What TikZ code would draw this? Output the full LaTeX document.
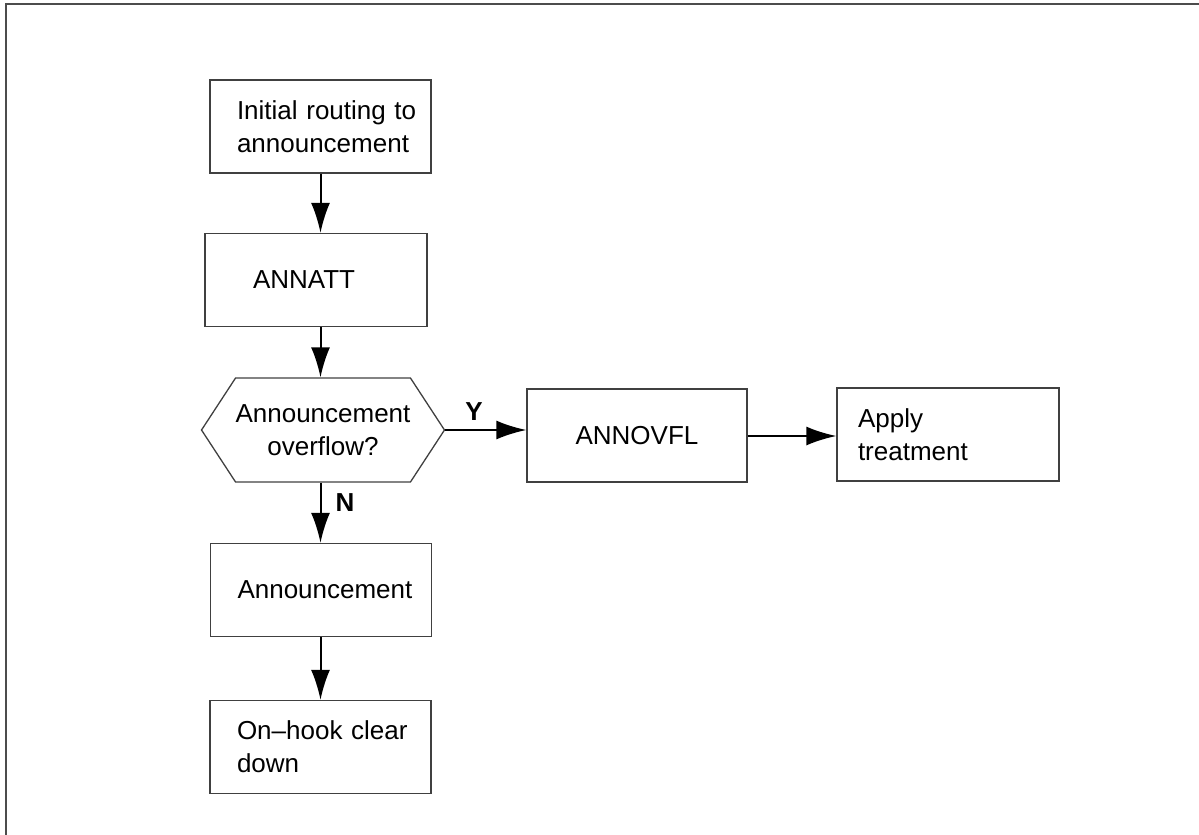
\documentclass[tikz,border=0pt]{standalone}
\usepackage{fontspec}
\setmainfont{Liberation Sans}
\usetikzlibrary{arrows.meta,shapes.symbols}

\begin{document}
\begin{tikzpicture}[x=0.5pt,y=-0.5pt,
  proc/.style={draw=black!75, line width=0.65pt, inner ysep=0pt, inner xsep=13.5pt,
    text width=83.5pt, minimum height=46.5pt, align=left,
    font=\fontsize{13}{16.5}\selectfont},
  decide/.style={draw=black!75, line width=0.65pt, shape=signal, signal to=east and west,
    signal pointer angle=113.6, minimum width=112pt, minimum height=52pt,
    inner sep=0pt, align=center, font=\fontsize{13}{16.5}\selectfont},
  flow/.style={-{Latex[length=15pt,width=9.5pt]}, line width=1pt},
  yn/.style={font=\fontsize{13}{16.5}\selectfont\bfseries}]

\useasboundingbox (0,0) rectangle (1199,835);

% Frame
\draw[black!70, line width=1pt] (6,835) -- (6,4) -- (1199,4);

% Main column
\node[proc] (init) at (320.5,126.5) {\mbox{Initial routing to}\\\mbox{announcement}};
\node[proc, inner xsep=24pt, text width=63pt] (annatt) at (316,280) {ANNATT};
\node[decide] (ovfl) at (323,430) {Announcement\\overflow?};
\node[proc] (annc) at (321,590) {\mbox{Announcement}};
\node[proc] (onhook) at (320.5,747) {\mbox{On--hook clear}\\down};

% Overflow branch
\node[proc, align=center, inner xsep=14pt, text width=82pt] (annovfl) at (637,435.5) {ANNOVFL};
\node[proc, inner xsep=10.5pt, text width=90pt] (apply) at (948,434.5) {Apply\\treatment};

% Connectors
\draw[flow] (init.south) -- (init.south |- annatt.north);
\draw[flow] (init.south |- annatt.south) -- (init.south |- ovfl.north);
\draw[flow] (init.south |- ovfl.south) -- (init.south |- annc.north);
\draw[flow] (init.south |- annc.south) -- (init.south |- onhook.north);
\draw[flow] (ovfl.east) -- (ovfl.east -| annovfl.west);
\draw[flow] (annovfl.east |- 0,436) -- (apply.west |- 0,436);

% Labels
\node[yn] (ylab) at (474,412) {Y};
\node[yn] (nlab) at (345,503) {N};

\end{tikzpicture}
\end{document}
